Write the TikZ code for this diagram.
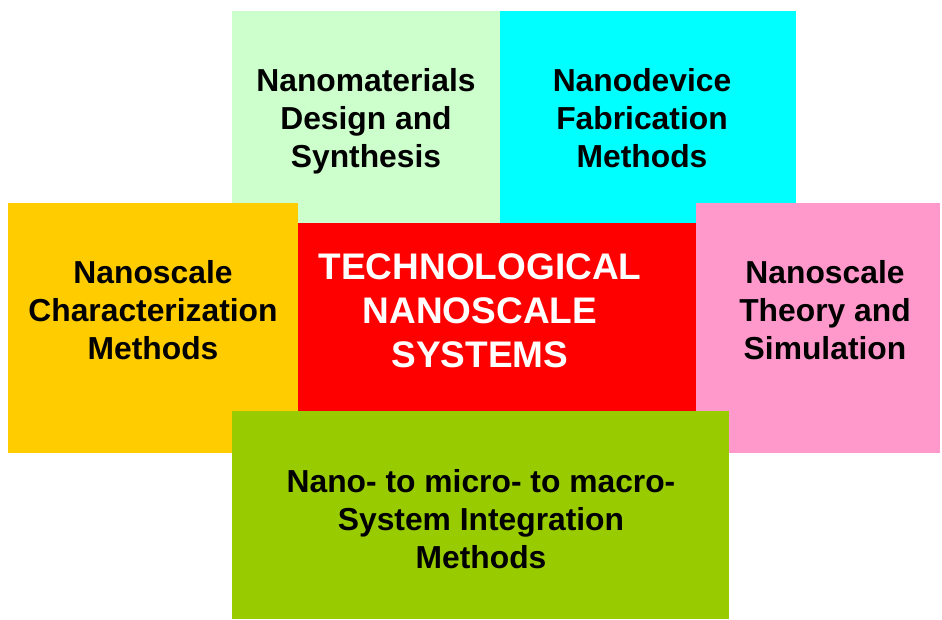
\documentclass[tikz,border=0pt]{standalone}
\usepackage{fontspec}
\setmainfont{Liberation Sans}
\definecolor{cMat}{HTML}{CCFFCC}
\definecolor{cDev}{HTML}{00FFFF}
\definecolor{cChar}{HTML}{FFCC00}
\definecolor{cTheo}{HTML}{FF99CC}
\definecolor{cTech}{HTML}{FF0000}
\definecolor{cInt}{HTML}{99CC00}
\begin{document}
\begin{tikzpicture}[x=1pt,y=-1pt,
  box/.style={draw=none,inner sep=0pt,outer sep=0pt,anchor=north west},
  lbl/.style={align=center,inner sep=0pt,font=\bfseries\fontsize{31.8}{38.2}\selectfont},
  biglbl/.style={align=center,inner sep=0pt,text=white,font=\bfseries\fontsize{37}{44}\selectfont}]
\useasboundingbox (0,0) rectangle (942,619);
\node[box,fill=cMat,minimum width=268pt,minimum height=212pt] (mat) at (232,11) {};
\node[box,fill=cDev,minimum width=296pt,minimum height=212pt] (dev) at (500,11) {};
\node[box,fill=cChar,minimum width=290pt,minimum height=250pt] (char) at (8,203) {};
\node[box,fill=cTheo,minimum width=244pt,minimum height=250pt] (theo) at (696,203) {};
\node[box,fill=cTech,minimum width=398pt,minimum height=188pt] (tech) at (298,223) {};
\node[box,fill=cInt,minimum width=497pt,minimum height=208pt] (int) at (232,411) {};
\node[lbl] (tmat) at (366,121) {Nanomaterials\\Design and\\Synthesis};
\node[lbl] (tdev) at (642,118) {Nanodevice\\Fabrication\\Methods};
\node[lbl] (tchar) at (153,310) {Nanoscale\\Characterization\\Methods};
\node[lbl] (ttheo) at (825,310) {Nanoscale\\Theory and\\Simulation};
\node[biglbl] (ttech) at (480,310.5) {TECHNOLOGICAL\\NANOSCALE\\SYSTEMS};
\node[lbl] (tint) at (481,519) {Nano- to micro- to macro-\\System Integration\\Methods};
\end{tikzpicture}
\end{document}
